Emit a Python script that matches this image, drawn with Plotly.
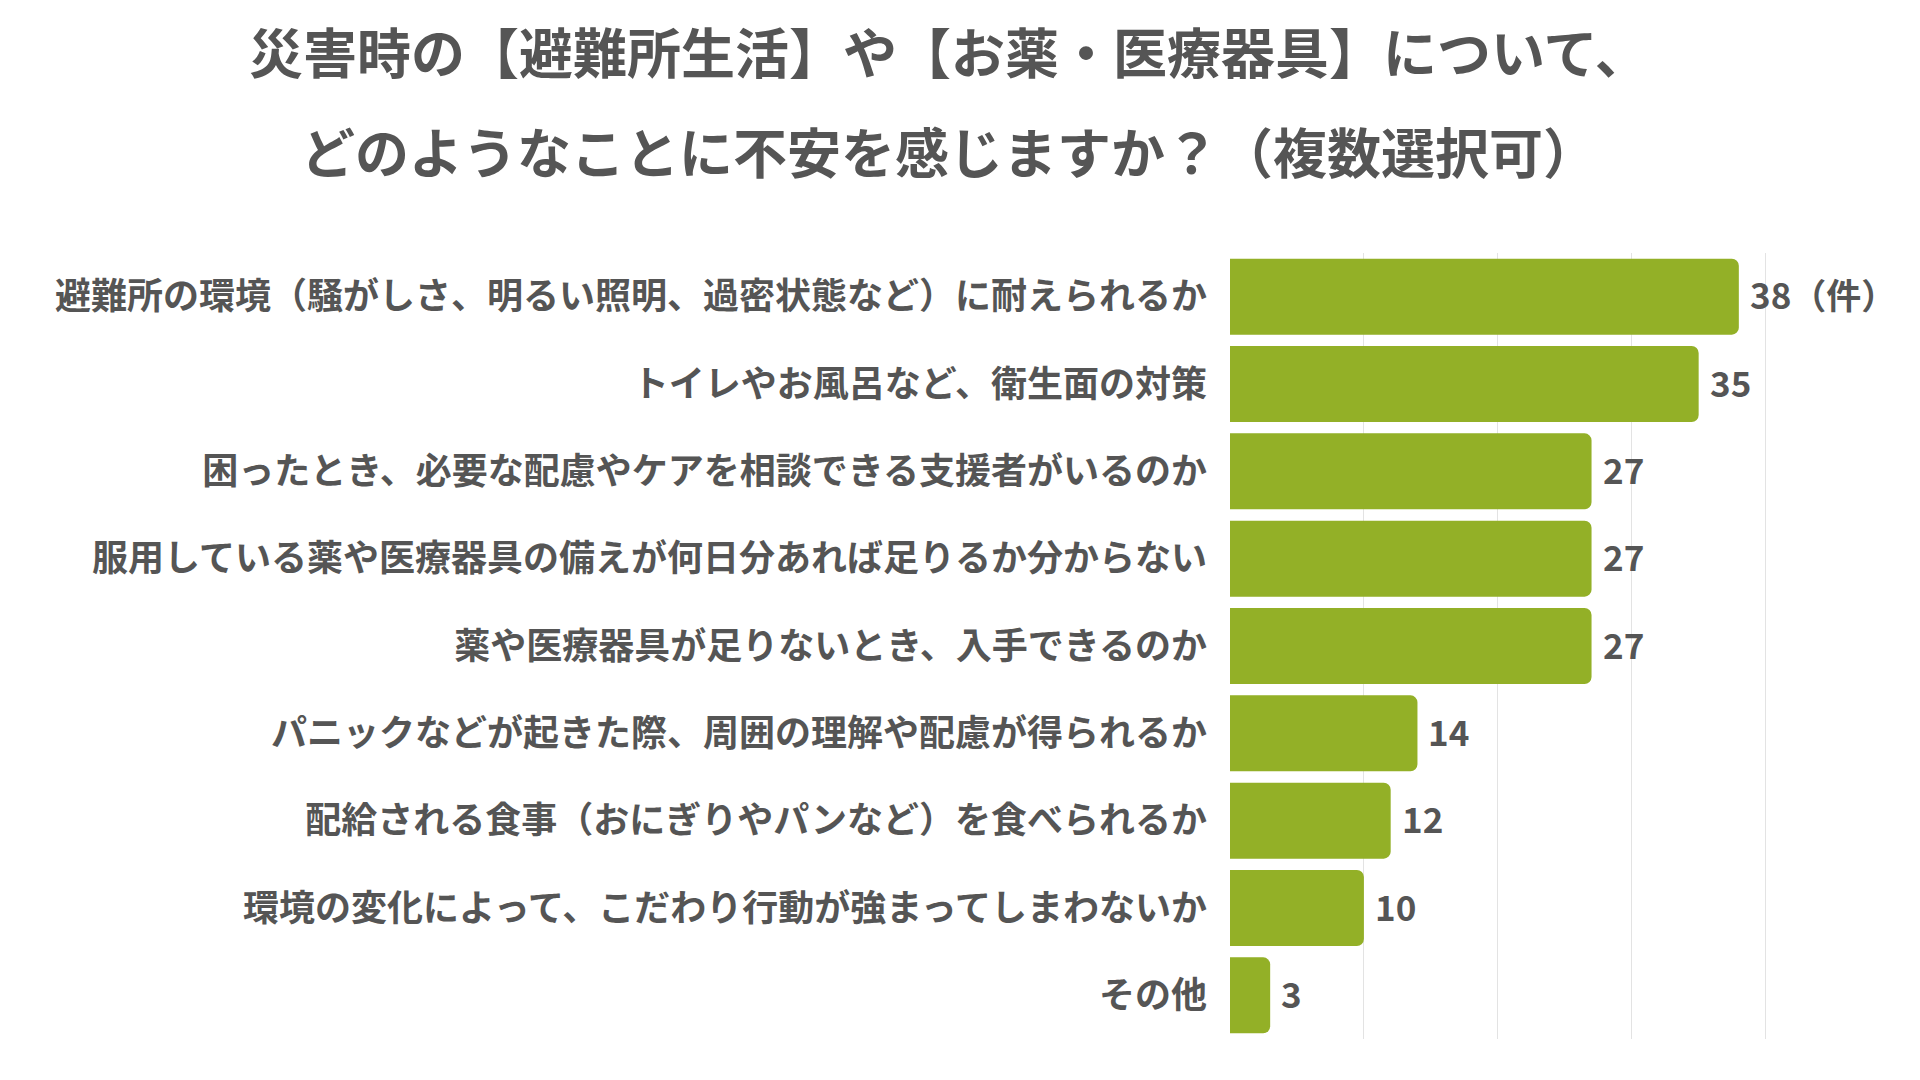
import plotly.graph_objects as go

title_lines = [
    "災害時の【避難所生活】や【お薬・医療器具】について、",
    "どのようなことに不安を感じますか？（複数選択可）",
]

categories = [
    "避難所の環境（騒がしさ、明るい照明、過密状態など）に耐えられるか",
    "トイレやお風呂など、衛生面の対策",
    "困ったとき、必要な配慮やケアを相談できる支援者がいるのか",
    "服用している薬や医療器具の備えが何日分あれば足りるか分からない",
    "薬や医療器具が足りないとき、入手できるのか",
    "パニックなどが起きた際、周囲の理解や配慮が得られるか",
    "配給される食事（おにぎりやパンなど）を食べられるか",
    "環境の変化によって、こだわり行動が強まってしまわないか",
    "その他",
]
counts = [38, 35, 27, 27, 27, 14, 12, 10, 3]
unit = "（件）"

labels = [f"{v}{unit}" if i == 0 else str(v) for i, v in enumerate(counts)]

grey = "#555555"
font_jp = "Noto Sans CJK JP"

fig = go.Figure(
    go.Bar(
        x=counts,
        y=categories,
        orientation="h",
        marker=dict(color="#93b027", line=dict(width=0)),
        hoverinfo="skip",
    )
)

# value labels next to the bar ends
value_notes = [
    dict(
        x=v, y=c, text=t,
        xref="x", yref="y",
        xanchor="left", yanchor="middle",
        xshift=9, yshift=3,
        showarrow=False,
        font=dict(family=font_jp, size=35, color=grey, weight="bold"),
    )
    for v, c, t in zip(counts, categories, labels)
]

title_notes = [
    dict(
        text=line,
        xref="paper", yref="paper",
        x=-0.511, y=y,
        xanchor="center", yanchor="middle",
        showarrow=False,
        font=dict(family=font_jp, size=54, color=grey, weight="bold"),
    )
    for line, y in zip(title_lines, [1.257, 1.130])
]

fig.update_layout(
    width=1920,
    height=1080,
    margin=dict(l=1222, r=149, t=245, b=49),
    paper_bgcolor="white",
    plot_bgcolor="white",
    bargap=0.13,
    barcornerradius=7,
    showlegend=False,
    font=dict(family=font_jp, color=grey),
    annotations=title_notes + value_notes,
)

fig.update_xaxes(
    range=[0, 41],
    dtick=10,
    showgrid=True,
    gridcolor="#e3e3e3",
    gridwidth=1,
    zeroline=False,
    showticklabels=False,
    showline=False,
    ticks="",
)

fig.update_yaxes(
    autorange="reversed",
    showgrid=False,
    showline=False,
    ticks="",
    ticklabelstandoff=22,
    tickfont=dict(family=font_jp, size=36, color=grey, weight="bold"),
)

fig.write_html("out.html")
